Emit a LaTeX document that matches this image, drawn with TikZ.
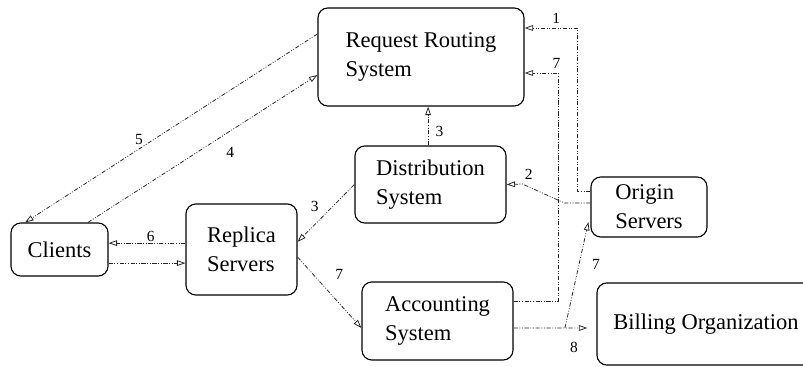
\documentclass[tikz,border=0pt]{standalone}
\usepackage{fontspec}
\setmainfont{Liberation Serif}
\usetikzlibrary{arrows.meta}
\tikzset{
    x=0.025cm, y=-0.025cm, % one unit is one pixel of the original sketch
    }

\begin{document}
\begin{tikzpicture}[
boxnode/.style={rectangle, rounded corners=7pt, draw=black, thick, align=left, inner sep=0pt, font=\fontsize{16}{20.5}\selectfont},
flow/.style={draw=black!85, line width=0.55pt, dash pattern=on 3pt off 1.2pt on 0.6pt off 1.2pt on 0.6pt off 1.2pt, -{Triangle[open, length=6pt, width=4pt]}},
numlabel/.style={font=\fontsize{11}{12}\selectfont, inner sep=1pt},
]
\useasboundingbox (0,0) rectangle (803,367);
\clip (0,0) rectangle (803,367);

\node[boxnode, minimum width=5.15cm, minimum height=2.45cm] (routing) at (421,57) {Request Routing\\System};
\node[boxnode, minimum width=3.775cm, minimum height=1.925cm] (distrib) at (430.5,184.5) {Distribution\\System};
\node[boxnode, minimum width=2.9cm, minimum height=1.5cm] (origin) at (649,207) {Origin\\Servers};
\node[boxnode, minimum width=2.425cm, minimum height=1.325cm] (clients) at (59.5,249.5) {Clients};
\node[boxnode, minimum width=2.775cm, minimum height=2.275cm] (replica) at (241.5,249.5) {Replica\\Servers};
\node[boxnode, minimum width=3.775cm, minimum height=1.95cm] (accounting) at (437.5,321) {Accounting\\System};
\node[boxnode, minimum width=5.45cm, minimum height=2.05cm] (billing) at (706,324) {Billing Organization};

\draw[flow] ([yshift=4mm]origin.west) -- ++(-13,0) |- node[numlabel, pos=0.7, above=2pt] {1} ([yshift=7.25mm]routing.east);
\draw[flow] ([yshift=5mm]accounting.east) -- ++(45,0) |- node[numlabel, pos=0.53, above=2pt] {7} ([yshift=-4mm]routing.east);
\draw[flow] ([yshift=1mm]origin.west) -- ++(-26,0) -- node[numlabel, pos=0.85, above=4pt] {2} ++(-42,-19) -- (distrib.east);
\draw[flow] ([xshift=-0.6mm]distrib.north) -- node[numlabel, pos=0.35, right=4pt] {3} ([xshift=-0.6mm]distrib.north |- routing.south);
\draw[flow] (distrib.west) -- node[numlabel, pos=0.7, above=8pt] {3} ([yshift=1.9mm]replica.east);
\draw[flow] ([yshift=5.75mm]routing.west) -- node[numlabel, pos=0.61, above=2pt] {5} ([xshift=-8.6mm]clients.north);
\draw[flow] ([xshift=7.1mm]clients.north) -- node[numlabel, pos=0.62, below=10pt] {4} ([yshift=-4.5mm]routing.west);
\draw[flow] ([yshift=1.6mm]replica.west) -- node[numlabel, pos=0.45, above] {6} ([yshift=1.6mm]clients.east);
\draw[flow] ([yshift=-3.4mm]clients.east) -- ([yshift=-3.4mm]replica.west);
\draw[flow] ([yshift=-1.9mm]replica.east) -- node[numlabel, pos=0.25, right=0.5cm] {7} ([yshift=-1.75mm]accounting.west);
\draw[flow, shorten >=0.225cm] ([yshift=-1.75mm]accounting.east) -- coordinate[pos=0.62] (split) node[numlabel, pos=0.73, below=9pt] {8} ([yshift=-1mm]billing.west);
\draw[flow] (split) -- node[numlabel, pos=0.6, right=8pt] {7} ([xshift=-0.5mm, yshift=-3.75mm]origin.west);

\end{tikzpicture}
\end{document}
